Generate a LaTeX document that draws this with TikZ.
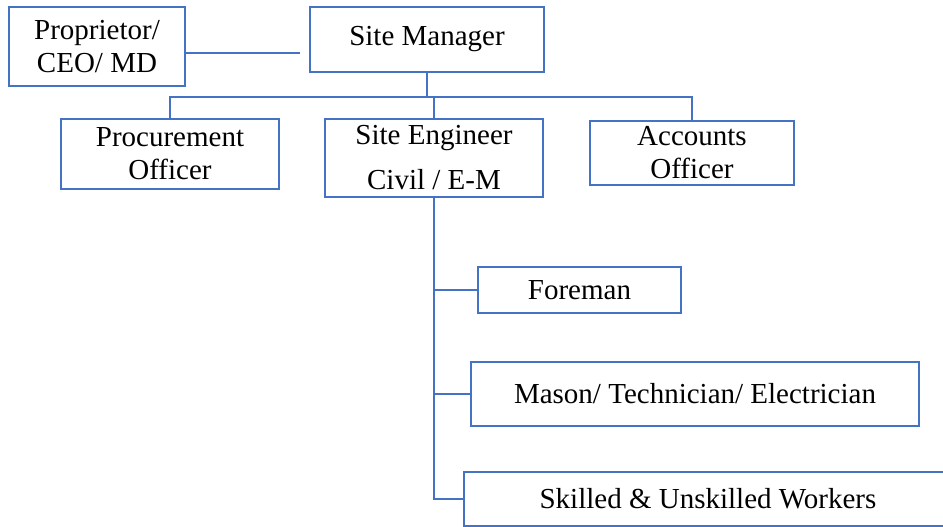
\documentclass[tikz,border=0pt]{standalone}
\usepackage{fontspec}
\setmainfont{Liberation Serif}
\definecolor{boxblue}{HTML}{4472C4}
\begin{document}
\begin{tikzpicture}[x=1pt,y=1pt,
  box/.style={draw=boxblue, line width=2.8pt, fill=white, inner sep=0pt,
    align=center, font=\fontsize{29}{33}\selectfont},
  link/.style={draw=boxblue, line width=2.8pt}]
\useasboundingbox (0,0) rectangle (943,-527);
\clip (0,0) rectangle (943,-527);

% free ends and junctions of the connectors
\coordinate (propend) at (300,-53);
\coordinate (bus) at (427,-97);

% boxes
\node[box, minimum width=176, minimum height=79] (prop) at (97,-46.5) {Proprietor/\\CEO/ MD};
\node[box, minimum width=234, minimum height=65] (sm) at (427,-39.5) {Site Manager};
\node[box, minimum width=218, minimum height=70] (proc) at (170,-154) {Procurement\\Officer};
\node[box, minimum width=218, minimum height=78] (se) at (434,-158) {Site Engineer\\[12pt]Civil / E-M};
\node[box, minimum width=204, minimum height=64] (acc) at (692,-153) {Accounts\\Officer};
\node[box, minimum width=203, minimum height=46] (fm) at (579.5,-290) {Foreman};
\node[box, minimum width=448, minimum height=64] (ms) at (695,-394) {Mason/ Technician/ Electrician};
\node[box, minimum width=488, minimum height=54] (sk) at (708,-499) {Skilled \& Unskilled Workers};

% connectors
\draw[link] (prop.east |- propend) -- (propend);
\draw[link] (sm.south) -- (sm.south |- bus);
\draw[link] (proc.north) -- (proc.north |- bus) -| (acc.north);
\draw[link] (se.north) -- (se.north |- bus);
\draw[link] (se.south) |- (sk.west);
\draw[link] (se.south |- fm.west) -- (fm.west);
\draw[link] (se.south |- ms.west) -- (ms.west);
\end{tikzpicture}
\end{document}
